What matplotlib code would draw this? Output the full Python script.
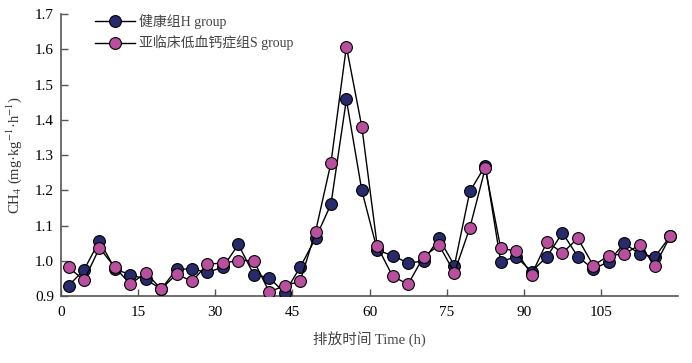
import matplotlib
matplotlib.use("Agg")
import matplotlib.pyplot as plt

plt.rcParams["font.family"] = ["Liberation Serif", "Noto Sans CJK SC"]
plt.rcParams["mathtext.fontset"] = "stix"

# sampling times (h)
time_h = [1.5, 4.5, 7.5, 10.5, 13.5, 16.5, 19.5, 22.5, 25.5, 28.5,
          31.5, 34.5, 37.5, 40.5, 43.5, 46.5, 49.5, 52.5, 55.5, 58.5,
          61.5, 64.5, 67.5, 70.5, 73.5, 76.5, 79.5, 82.5, 85.5, 88.5,
          91.5, 94.5, 97.5, 100.5, 103.5, 106.5, 109.5, 112.5, 115.5, 118.5]

h_group = [0.930, 0.975, 1.057, 0.977, 0.961, 0.948, 0.920, 0.977, 0.977, 0.968,
           0.982, 1.047, 0.961, 0.953, 0.909, 0.982, 1.064, 1.161, 1.458, 1.200,
           1.031, 1.015, 0.994, 1.000, 1.064, 0.987, 1.197, 1.270, 0.998, 1.012,
           0.970, 1.012, 1.080, 1.012, 0.977, 0.998, 1.050, 1.020, 1.012, 1.071]

s_group = [0.982, 0.945, 1.037, 0.982, 0.934, 0.967, 0.920, 0.963, 0.942, 0.991,
           0.994, 1.001, 1.001, 0.912, 0.930, 0.942, 1.083, 1.278, 1.608, 1.381,
           1.042, 0.956, 0.934, 1.012, 1.045, 0.967, 1.094, 1.263, 1.036, 1.028,
           0.961, 1.054, 1.023, 1.064, 0.987, 1.015, 1.020, 1.045, 0.987, 1.071]

x_ticks = [0, 15, 30, 45, 60, 75, 90, 105]
y_ticks = [0.9, 1.0, 1.1, 1.2, 1.3, 1.4, 1.5, 1.6, 1.7]

fig = plt.figure(figsize=(6.92, 3.63), dpi=100)
ax = fig.add_axes([0.088, 0.184, 0.892, 0.777])

ax.plot(time_h, h_group, color="black", lw=1.0, marker="o", ms=8.5,
        mfc="#272a6b", mec="black", mew=0.8, label="健康组H group", zorder=3)
ax.plot(time_h, s_group, color="black", lw=1.0, marker="o", ms=8.5,
        mfc="#b84f9f", mec="black", mew=0.8, label="亚临床低血钙症组S group", zorder=3)

ax.set_xlim(0, 120)
ax.set_ylim(0.9, 1.7)
ax.set_xticks(x_ticks)
ax.set_yticks(y_ticks)
ax.set_yticklabels([f"{v:.1f}" for v in y_ticks])
for side in ("top", "right"):
    ax.spines[side].set_visible(False)
for side in ("left", "bottom"):
    ax.spines[side].set_color("#555555")
    ax.spines[side].set_linewidth(1.2)
ax.tick_params(direction="in", length=5, width=1, color="#555555",
               labelsize=11)
ax.tick_params(axis="y", pad=5)
ax.tick_params(axis="x", pad=7)

ax.set_xlabel("排放时间 Time (h)", fontsize=10.5, color="#444444", labelpad=9)
ax.set_ylabel(r"CH$_4$ (mg·kg$^{-1}$·h$^{-1}$)", fontsize=10.5, color="#333333")
ax.yaxis.set_label_coords(-0.060, 0.5)

leg = ax.legend(loc="upper left", bbox_to_anchor=(0.035, 1.045), frameon=False,
                fontsize=10, handlelength=2.9, handletextpad=0.3, labelspacing=0.45)
for t in leg.get_texts():
    t.set_color("#444444")

fig.savefig("out.png", dpi=100)
